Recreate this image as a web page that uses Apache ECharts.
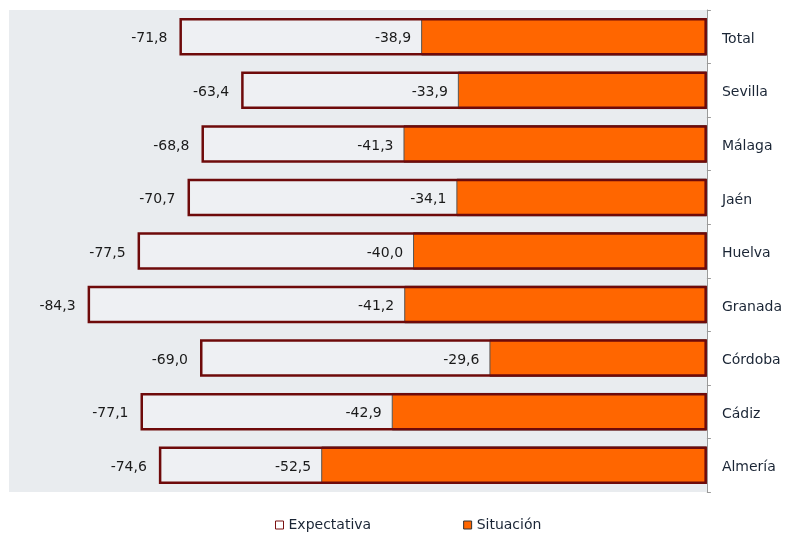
<!DOCTYPE html>
<html><head><meta charset="utf-8">
<script src="https://cdn.jsdelivr.net/npm/echarts@6/dist/echarts.min.js"></script>
<style>html,body{margin:0;padding:0;background:#fff}#c{width:785px;height:534px}</style>
</head><body><div id="c"></div>
<script>
var categories = ['Total','Sevilla','Málaga','Jaén','Huelva','Granada','Córdoba','Cádiz','Almería'];
var expectativa = [-71.8,-63.4,-68.8,-70.7,-77.5,-84.3,-69.0,-77.1,-74.6];
var situacion = [-38.9,-33.9,-41.3,-34.1,-40.0,-41.2,-29.6,-42.9,-52.5];

var fmt = function(p){ return p.value.toFixed(1).replace('.', ','); };
var font = 'DejaVu Sans';
var chart = echarts.init(document.getElementById('c'));
chart.setOption({
  animation: false,
  backgroundColor: '#ffffff',
  textStyle: {fontFamily: font},
  grid: {left: 9, right: 78, top: 10, bottom: 42, show: true, backgroundColor: '#e9ecef', borderWidth: 0},
  xAxis: {type: 'value', min: -95, max: 0, show: false},
  yAxis: {
    type: 'category', data: categories, inverse: true, position: 'right',
    axisLine: {show: true, lineStyle: {color: '#9a9a9a', width: 1}},
    axisTick: {show: true, length: 4, lineStyle: {color: '#9a9a9a'}},
    axisLabel: {
      margin: 15,
      formatter: function(v){ return '{a|' + v + '}'; },
      rich: {a: {color: '#1a2535', fontSize: 14, fontFamily: font, padding: [5, 0, 0, 0]}}
    }
  },
  legend: {
    top: 513, left: 270, itemWidth: 8, itemHeight: 8, itemGap: 92,
    textStyle: {fontSize: 14, color: '#1a2535', fontFamily: font},
    data: [
      {name: 'Expectativa', icon: 'rect', itemStyle: {color: '#ffffff', borderColor: '#7a1010', borderWidth: 1}},
      {name: 'Situación', icon: 'rect', itemStyle: {color: '#ff6600', borderColor: '#333', borderWidth: 1}}
    ]
  },
  series: [
    {name: 'Expectativa', type: 'bar', data: expectativa, barWidth: '70%', barGap: '-100%', z: 1,
     itemStyle: {color: '#eef0f3'},
     label: {show: true, position: 'left', distance: 12, offset: [0, 2], formatter: fmt, color: '#1a1a1a', fontSize: 14, fontFamily: font}},
    {name: 'Situación', type: 'bar', data: situacion, barWidth: '70%', barGap: '-100%', z: 2,
     itemStyle: {color: '#ff6600', borderColor: '#555', borderWidth: 1},
     label: {show: true, position: 'left', distance: 10, offset: [0, 2], formatter: fmt, color: '#1a1a1a', fontSize: 14, fontFamily: font}},
    {name: 'Expectativa', type: 'bar', data: expectativa, barWidth: '70%', barGap: '-100%', z: 3, silent: true,
     itemStyle: {color: 'rgba(0,0,0,0)', borderColor: '#6e0a0a', borderWidth: 2.5},
     label: {show: false}}
  ]
});
</script></body></html>
